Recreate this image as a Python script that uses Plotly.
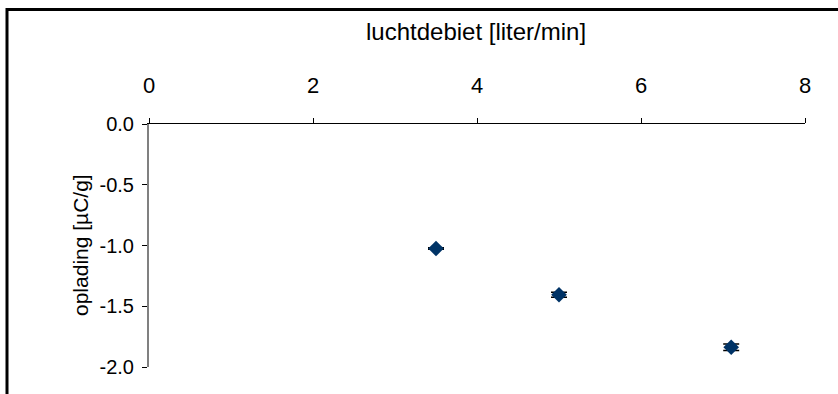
import plotly.graph_objects as go

# data
flow = [3.5, 5.0, 7.1]              # luchtdebiet [liter/min]
charge = [-1.025, -1.405, -1.837]   # oplading [µC/g]
charge_err = [0.006, 0.02, 0.027]

x_ticks = [0, 2, 4, 6, 8]
y_ticks = [0.0, -0.5, -1.0, -1.5, -2.0]
y_ticklabels = ["0.0", "-0.5", "-1.0", "-1.5", "-2.0"]

W, H = 838, 394
L, R, T, B = 149, 33, 124, 27
pw, ph = W - L - R, H - T - B

font = "Liberation Sans, Arial, sans-serif"
fs = 21

fig = go.Figure()
fig.add_trace(go.Scatter(
    x=flow, y=charge, mode="markers",
    marker=dict(symbol="diamond", size=12, color="#003366", line=dict(width=0)),
    error_y=dict(type="data", array=charge_err, visible=True, color="black",
                 thickness=1.5, width=8),
    showlegend=False, cliponaxis=False,
))

def px_x(p):
    return (p - L) / pw

def px_y(p):
    return (H - B - p) / ph

fig.update_layout(
    width=W, height=H,
    margin=dict(l=L, r=R, t=T, b=B),
    paper_bgcolor="white", plot_bgcolor="white",
    font=dict(family=font, size=fs, color="black"),
    xaxis=dict(
        range=[0, 8], side="top", tickvals=x_ticks,
        showgrid=False, zeroline=False,
        showline=True, linecolor="black", linewidth=1,
        ticks="outside", ticklen=5, tickcolor="black", tickwidth=1,
        ticklabelstandoff=16,
        tickfont=dict(size=22, family=font),
    ),
    yaxis=dict(
        range=[-2, 0], tickvals=y_ticks, ticktext=y_ticklabels,
        showgrid=False, zeroline=False,
        showline=True, linecolor="#808080", linewidth=2,
        ticks="outside", ticklen=5, tickcolor="black", tickwidth=1,
        ticklabelstandoff=4,
        tickfont=dict(size=20, family=font),
    ),
    annotations=[
        dict(text="luchtdebiet [liter/min]", xref="paper", yref="paper",
             x=px_x(476), y=px_y(32), showarrow=False,
             font=dict(size=24, family=font), xanchor="center", yanchor="middle"),
        dict(text="oplading [µC/g]", xref="paper", yref="paper",
             x=px_x(80), y=px_y(245), showarrow=False, textangle=-90,
             font=dict(size=fs, family=font), xanchor="center", yanchor="middle"),
    ],
    shapes=[
        dict(type="rect", xref="paper", yref="paper",
             x0=px_x(7), x1=px_x(W + 20), y0=px_y(H + 20), y1=px_y(9.5),
             line=dict(color="black", width=3), fillcolor="rgba(0,0,0,0)",
             layer="above"),
    ],
)

fig.write_html("out.html")
